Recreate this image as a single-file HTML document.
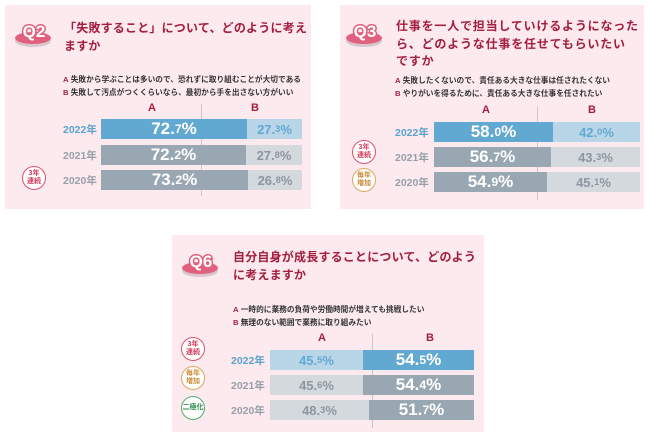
<!DOCTYPE html>
<html><head><meta charset="utf-8"><style>
*{margin:0;padding:0;box-sizing:border-box}
body{width:650px;height:432px;background:#fff;position:relative;overflow:hidden;font-family:"Liberation Sans","Noto Sans CJK JP",sans-serif}
.p{position:absolute;background:#fdeaef}
.a{position:absolute;white-space:nowrap}
.t{color:#a41e3d;font-weight:bold;font-size:12px;line-height:17.5px;letter-spacing:0.2px}
.lg{font-size:7.7px;color:#333;line-height:13px;font-weight:bold}
.lg b{color:#a41e3d}
.h{font-size:11px;font-weight:bold;color:#a41e3d}
.yr{font-size:10.5px;font-weight:bold}
.bar{position:absolute;height:20px;display:flex;align-items:center;justify-content:center;font-weight:bold}
.big{font-size:17px;color:#fff}
.big small,.sm small{font-size:0.72em}
.sm{font-size:13px}
.c{position:absolute;width:24px;height:24px;border-radius:50%;background:#fff;border:1.3px solid;font-size:7px;font-weight:bold;display:flex;align-items:center;justify-content:center;text-align:center;line-height:8px}
.dv{position:absolute;width:1px;background:#c5c9cd}
svg text{paint-order:stroke}
</style></head><body>

<!-- Panel 1 -->
<div class="p" style="left:5px;top:5px;width:306px;height:204px"></div>
<svg class="a" style="left:14px;top:15px" width="42" height="34"><ellipse cx="19" cy="26" rx="18" ry="6" fill="#d9c6cc"/><ellipse cx="19" cy="23" rx="18" ry="6" fill="#e0607e"/><text x="20" y="22" text-anchor="middle" font-family="Liberation Sans" font-weight="bold" font-size="17" fill="#fff" stroke="#e0607e" stroke-width="3">Q2</text></svg>
<div class="a t" style="left:64px;top:20px">「失敗すること」について、どのように考え<br>ますか</div>
<div class="a lg" style="left:63px;top:73px"><b>A</b> 失敗から学ぶことは多いので、恐れずに取り組むことが大切である<br><b>B</b> 失敗して汚点がつくくらいなら、最初から手を出さない方がいい</div>
<div class="a h" style="left:148px;top:102px">A</div><div class="a h" style="left:251px;top:102px">B</div>
<div class="dv" style="left:201px;top:104px;height:92px"></div>
<div class="a yr" style="left:63px;top:122px;color:#5aa3cf">2022年</div>
<div class="a yr" style="left:63px;top:148px;color:#97a0a9">2021年</div>
<div class="a yr" style="left:63px;top:173px;color:#97a0a9">2020年</div>
<div class="bar big" style="left:101px;top:119px;width:146px;background:#62a9d1">72.<small>7</small>%</div>
<div class="bar sm" style="left:247px;top:119px;width:55px;background:#b9d5e8;color:#62a9d1">27.<small>3</small>%</div>
<div class="bar big" style="left:101px;top:145px;width:145px;background:#98a7b2">72.<small>2</small>%</div>
<div class="bar sm" style="left:246px;top:145px;width:56px;background:#d4d9dd;color:#8b96a0">27.<small>8</small>%</div>
<div class="bar big" style="left:101px;top:170px;width:147px;background:#98a7b2">73.<small>2</small>%</div>
<div class="bar sm" style="left:248px;top:170px;width:54px;background:#d4d9dd;color:#8b96a0">26.<small>8</small>%</div>
<div class="c" style="left:22px;top:166px;border-color:#e0506c;color:#d03a58">3年<br>連続</div>

<!-- Panel 2 -->
<div class="p" style="left:340px;top:5px;width:304px;height:204px"></div>
<svg class="a" style="left:345px;top:15px" width="42" height="34"><ellipse cx="19" cy="26" rx="18" ry="6" fill="#d9c6cc"/><ellipse cx="19" cy="23" rx="18" ry="6" fill="#e0607e"/><text x="20" y="22" text-anchor="middle" font-family="Liberation Sans" font-weight="bold" font-size="17" fill="#fff" stroke="#e0607e" stroke-width="3">Q3</text></svg>
<div class="a t" style="left:396px;top:18px;letter-spacing:0.8px">仕事を一人で担当していけるようになった<br>ら、どのような仕事を任せてもらいたい<br>ですか</div>
<div class="a lg" style="left:395px;top:74px"><b>A</b> 失敗したくないので、責任ある大きな仕事は任されたくない<br><b>B</b> やりがいを得るために、責任ある大きな仕事を任されたい</div>
<div class="a h" style="left:482px;top:104px">A</div><div class="a h" style="left:588px;top:104px">B</div>
<div class="dv" style="left:537px;top:106px;height:94px"></div>
<div class="a yr" style="left:395px;top:125px;color:#5aa3cf">2022年</div>
<div class="a yr" style="left:395px;top:150px;color:#97a0a9">2021年</div>
<div class="a yr" style="left:395px;top:175px;color:#97a0a9">2020年</div>
<div class="bar big" style="left:434px;top:122px;width:119px;background:#62a9d1">58.<small>0</small>%</div>
<div class="bar sm" style="left:553px;top:122px;width:87px;background:#b9d5e8;color:#62a9d1">42.<small>0</small>%</div>
<div class="bar big" style="left:434px;top:147px;width:117px;background:#98a7b2">56.<small>7</small>%</div>
<div class="bar sm" style="left:551px;top:147px;width:89px;background:#d4d9dd;color:#8b96a0">43.<small>3</small>%</div>
<div class="bar big" style="left:434px;top:172px;width:113px;background:#98a7b2">54.<small>9</small>%</div>
<div class="bar sm" style="left:547px;top:172px;width:93px;background:#d4d9dd;color:#8b96a0">45.<small>1</small>%</div>
<div class="c" style="left:352px;top:140px;border-color:#e0506c;color:#d03a58">3年<br>連続</div>
<div class="c" style="left:352px;top:168px;border-color:#dda55a;color:#c98a35">毎年<br>増加</div>

<!-- Panel 3 -->
<div class="p" style="left:172px;top:235px;width:312px;height:197px"></div>
<svg class="a" style="left:181px;top:245px" width="42" height="34"><ellipse cx="19" cy="26" rx="18" ry="6" fill="#d9c6cc"/><ellipse cx="19" cy="23" rx="18" ry="6" fill="#e0607e"/><text x="20" y="22" text-anchor="middle" font-family="Liberation Sans" font-weight="bold" font-size="17" fill="#fff" stroke="#e0607e" stroke-width="3">Q6</text></svg>
<div class="a t" style="left:233px;top:249px">自分自身が成長することについて、どのよう<br>に考えますか</div>
<div class="a lg" style="left:233px;top:303px"><b>A</b> 一時的に業務の負荷や労働時間が増えても挑戦したい<br><b>B</b> 無理のない範囲で業務に取り組みたい</div>
<div class="a h" style="left:318px;top:332px">A</div><div class="a h" style="left:426px;top:332px">B</div>
<div class="dv" style="left:372px;top:334px;height:94px"></div>
<div class="a yr" style="left:231px;top:353px;color:#5aa3cf">2022年</div>
<div class="a yr" style="left:231px;top:378px;color:#97a0a9">2021年</div>
<div class="a yr" style="left:231px;top:403px;color:#97a0a9">2020年</div>
<div class="bar sm" style="left:270px;top:350px;width:93px;background:#b9d5e8;color:#62a9d1">45.<small>5</small>%</div>
<div class="bar big" style="left:363px;top:350px;width:111px;background:#62a9d1">54.<small>5</small>%</div>
<div class="bar sm" style="left:270px;top:375px;width:93px;background:#d4d9dd;color:#8b96a0">45.<small>6</small>%</div>
<div class="bar big" style="left:363px;top:375px;width:111px;background:#98a7b2">54.<small>4</small>%</div>
<div class="bar sm" style="left:270px;top:400px;width:99px;background:#d4d9dd;color:#8b96a0">48.<small>3</small>%</div>
<div class="bar big" style="left:369px;top:400px;width:105px;background:#98a7b2">51.<small>7</small>%</div>
<div class="c" style="left:181px;top:337px;border-color:#e0506c;color:#d03a58">3年<br>連続</div>
<div class="c" style="left:181px;top:366px;border-color:#dda55a;color:#c98a35">毎年<br>増加</div>
<div class="c" style="left:181px;top:396px;border-color:#4fae6a;color:#2f8a4a">二極化</div>
</body></html>
